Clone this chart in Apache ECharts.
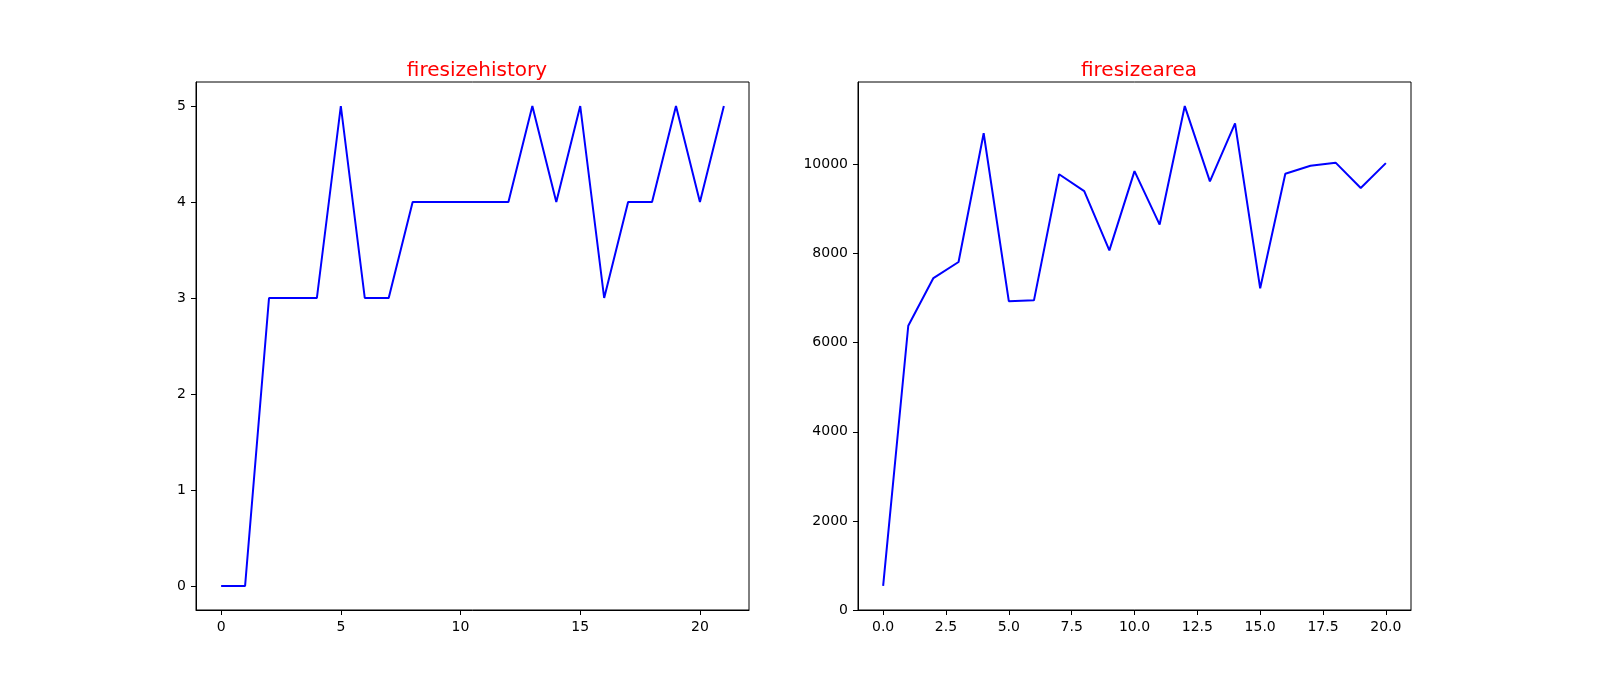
<!DOCTYPE html>
<html>
<head>
<meta charset="utf-8">
<title>firesize</title>
<script src="https://cdn.jsdelivr.net/npm/echarts@6/dist/echarts.min.js"></script>
<style>
  html, body { margin: 0; padding: 0; background: #fff; }
  #chart { width: 1600px; height: 700px; }
</style>
</head>
<body>
<div id="chart"></div>
<script>
// data
var historyValues = [0, 0, 3, 3, 3, 5, 3, 3, 4, 4, 4, 4, 4, 5, 4, 5, 3, 4, 4, 5, 4, 5];
var areaValues = [540, 6380, 7450, 7810, 10700, 6930, 6950, 9780, 9400, 8070, 9850,
                  8650, 11310, 9620, 10920, 7220, 9790, 9970, 10040, 9470, 10030];
var historyXTicks = [0, 5, 10, 15, 20];
var historyYTicks = [0, 1, 2, 3, 4, 5];
var areaXTicks = [0, 2.5, 5, 7.5, 10, 12.5, 15, 17.5, 20];
var areaYTicks = [0, 2000, 4000, 6000, 8000, 10000];

var FONT = 'DejaVu Sans';

function pairs(vals) {
  return vals.map(function (v, i) { return [i, v]; });
}

function axis(gridIndex, min, max, ticks, fmt) {
  return {
    type: 'value',
    gridIndex: gridIndex,
    min: min,
    max: max,
    axisLine: { show: true, onZero: false, lineStyle: { color: '#000', width: 1 } },
    splitLine: { show: false },
    axisTick: {
      show: true,
      inside: false,
      length: 5,
      customValues: ticks,
      lineStyle: { color: '#000', width: 1 }
    },
    axisLabel: {
      show: true,
      customValues: ticks,
      margin: 10,
      color: '#000',
      fontFamily: FONT,
      fontSize: 14,
      formatter: fmt
    }
  };
}

var chart = echarts.init(document.getElementById('chart'));

var titleStyle = { color: '#ff0000', fontFamily: FONT, fontSize: 20, fontWeight: 'normal' };

var option = {
  animation: false,
  backgroundColor: '#fff',
  title: [
    { text: 'firesizehistory', left: 472, top: 56, textAlign: 'center', textStyle: titleStyle },
    { text: 'firesizearea', left: 1134, top: 56, textAlign: 'center', textStyle: titleStyle }
  ],
  grid: [
    { left: 196, top: 82, width: 553, height: 528, show: true, borderColor: '#000', borderWidth: 1 },
    { left: 858, top: 82, width: 553, height: 528, show: true, borderColor: '#000', borderWidth: 1 }
  ],
  xAxis: [
    axis(0, -1.05, 22.05, historyXTicks, function (v) { return String(v); }),
    axis(1, -1, 21, areaXTicks, function (v) { return v.toFixed(1); })
  ],
  yAxis: [
    axis(0, -0.25, 5.25, historyYTicks, function (v) { return String(v); }),
    axis(1, 0, 11850, areaYTicks, function (v) { return String(v); })
  ],
  series: [
    {
      type: 'line', xAxisIndex: 0, yAxisIndex: 0,
      data: pairs(historyValues),
      showSymbol: false,
      lineStyle: { color: '#0000ff', width: 2 }
    },
    {
      type: 'line', xAxisIndex: 1, yAxisIndex: 1,
      data: pairs(areaValues),
      showSymbol: false,
      lineStyle: { color: '#0000ff', width: 2 }
    }
  ]
};

chart.setOption(option);
</script>
</body>
</html>
